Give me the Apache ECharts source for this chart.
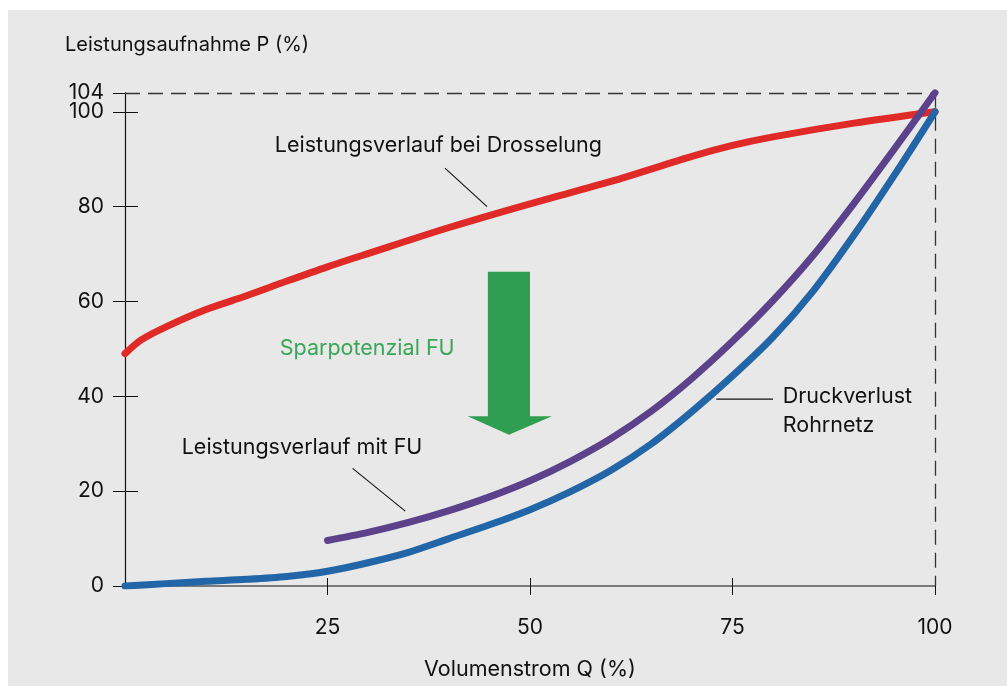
<!DOCTYPE html>
<html>
<head>
<meta charset="utf-8">
<script src="https://cdn.jsdelivr.net/npm/echarts@6/dist/echarts.min.js"></script>
<style>
html,body{margin:0;padding:0;background:#ffffff;}
#chart{width:1007px;height:686px;}
</style>
</head>
<body>
<div id="chart"></div>
<script>
// ---- data ----
const xTicks = [25, 50, 75, 100];
const yTicks = [0, 20, 40, 60, 80, 100];
const qRed = [0, 2, 5, 10, 15, 20, 25, 30, 40, 50, 60, 70, 75, 80, 90, 100];
const pRed = [49, 51.9, 54.6, 58.3, 61.2, 64.3, 67.3, 70.1, 75.6, 80.6, 85.3, 90.6, 92.9, 94.7, 97.6, 100];
const qPurple = [25, 30, 35, 40, 45, 50, 55, 60, 65, 70, 75, 80, 85, 90, 95, 100];
const pPurple = [9.6, 11.3, 13.4, 15.9, 18.8, 22.2, 26.3, 31.1, 36.9, 43.8, 51.6, 60.2, 69.8, 80.7, 92.2, 104];
const qBlue = [0, 5, 10, 15, 20, 25, 30, 35, 40, 45, 50, 55, 60, 65, 70, 75, 80, 85, 90, 95, 100];
const pBlue = [0, 0.5, 1.0, 1.4, 2.0, 3.1, 4.9, 7.1, 10.0, 12.9, 16.1, 19.9, 24.4, 30.0, 36.8, 44.3, 52.5, 62.3, 74.0, 86.7, 100];
const refP = 104;   // dashed reference level
const refQ = 100;   // dashed reference flow
const yTitle = 'Leistungsaufnahme P (%)';
const xTitle = 'Volumenstrom Q (%)';
const labelDrossel = 'Leistungsverlauf bei Drosselung';
const labelFU = 'Leistungsverlauf mit FU';
const labelSpar = 'Sparpotenzial FU';
const labelDruck = ['Druckverlust', 'Rohrnetz'];

const FONT = 'Inter, Roboto, sans-serif';
const pairs = (q, p) => q.map((v, i) => [v, p[i]]);
const yTickAll = yTicks.concat([refP]);

const chart = echarts.init(document.getElementById('chart'), null, {renderer: 'canvas'});

const lineSeries = (name, data, color) => ({
  name, type: 'line', data, smooth: 0.3, showSymbol: false, symbol: 'none',
  lineStyle: {color, width: 7, cap: 'round', join: 'round'}, z: 5, silent: true
});

chart.setOption({
  backgroundColor: '#ffffff',
  animation: false,
  grid: {left: 125, right: 72, top: 92.8, bottom: 94},
  xAxis: [{
    type: 'value', min: 0, max: 100, interval: 25,
    axisLine: {show: true, lineStyle: {color: '#555555', width: 1.5}},
    axisTick: {show: true, customValues: xTicks, length: 9, lineStyle: {color: '#111', width: 1}},
    axisLabel: {customValues: xTicks, color: '#111', fontSize: 21, fontFamily: FONT, margin: 31},
    splitLine: {show: false},
    name: xTitle, nameLocation: 'middle', nameGap: 73,
    nameTextStyle: {color: '#111', fontSize: 21.5, fontFamily: FONT}
  }, {
    type: 'value', min: 0, max: 100, position: 'bottom',
    axisLine: {show: false},
    axisTick: {show: true, inside: true, customValues: xTicks, length: 8, lineStyle: {color: '#111', width: 1}},
    axisLabel: {show: false}, splitLine: {show: false}
  }],
  yAxis: [{
    type: 'value', min: 0, max: refP,
    axisLine: {show: true, lineStyle: {color: '#111', width: 1.2}},
    axisTick: {show: true, customValues: yTickAll, length: 12, lineStyle: {color: '#111', width: 1}},
    axisLabel: {customValues: yTicks, color: '#111', fontSize: 21, fontFamily: FONT, margin: 21},
    splitLine: {show: false}
  }, {
    type: 'value', min: 0, max: refP, position: 'left',
    axisLine: {show: false},
    axisTick: {show: true, inside: true, customValues: yTickAll, length: 13, lineStyle: {color: '#111', width: 1}},
    axisLabel: {show: false}, splitLine: {show: false}
  }],
  series: [
    Object.assign(lineSeries('Drosselung', pairs(qRed, pRed), '#e02a28'), {
      markLine: {
        silent: true, symbol: 'none', animation: false,
        lineStyle: {color: '#333', type: [15, 8], width: 1.3},
        label: {show: false},
        data: [
          [{coord: [0, refP], label: {show: true, position: 'start', formatter: String(refP), distance: 21,
                                       color: '#111', fontSize: 21, fontFamily: FONT}},
           {coord: [refQ, refP]}],
          [{coord: [refQ, refP]}, {coord: [refQ, 0]}]
        ]
      },
      z: 4
    }),
    lineSeries('Druckverlust', pairs(qBlue, pBlue), '#2266a8'),
    lineSeries('FU', pairs(qPurple, pPurple), '#5b428b')
  ]
});

// annotations placed in data coordinates
const px = (q, p) => chart.convertToPixel({xAxisIndex: 0, yAxisIndex: 0}, [q, p]);
const textEl = (q, p, text, color) => {
  const [x, y] = px(q, p);
  return {type: 'text', x, y, z: 10, style: {text, fill: color || '#111', font: '21.5px ' + FONT, textVerticalAlign: 'middle', textAlign: 'left'}};
};
const lineEl = (q1, p1, q2, p2) => {
  const [x1, y1] = px(q1, p1), [x2, y2] = px(q2, p2);
  return {type: 'line', z: 10, shape: {x1, y1, x2, y2}, style: {stroke: '#111', lineWidth: 1.1}};
};
const arrowPts = [[44.8, 66.25], [50.0, 66.25], [50.0, 35.8], [52.7, 35.8], [47.4, 31.9], [42.3, 35.8], [44.8, 35.8]].map(d => px(d[0], d[1]));

chart.setOption({
  graphic: [
    {type: 'rect', shape: {x: 8, y: 10, width: 1000, height: 680}, style: {fill: '#e8e8e8'}, z: -10, silent: true},
    {type: 'text', x: 65, y: 45, z: 10, style: {text: yTitle, fill: '#111', font: '20px ' + FONT, textVerticalAlign: 'middle'}},
    textEl(18.5, 92.9, labelDrossel),
    lineEl(39.5, 88.1, 44.7, 80.0),
    textEl(19.1, 50.0, labelSpar, '#3aa657'),
    {type: 'polygon', z: 3, shape: {points: arrowPts}, style: {fill: '#2f9e50'}},
    textEl(7.0, 29.2, labelFU),
    lineEl(28.1, 24.8, 34.6, 15.8),
    textEl(81.2, 40.0, labelDruck[0]),
    textEl(81.2, 33.75, labelDruck[1]),
    lineEl(73.0, 39.4, 80.0, 39.4)
  ]
});
</script>
</body>
</html>
